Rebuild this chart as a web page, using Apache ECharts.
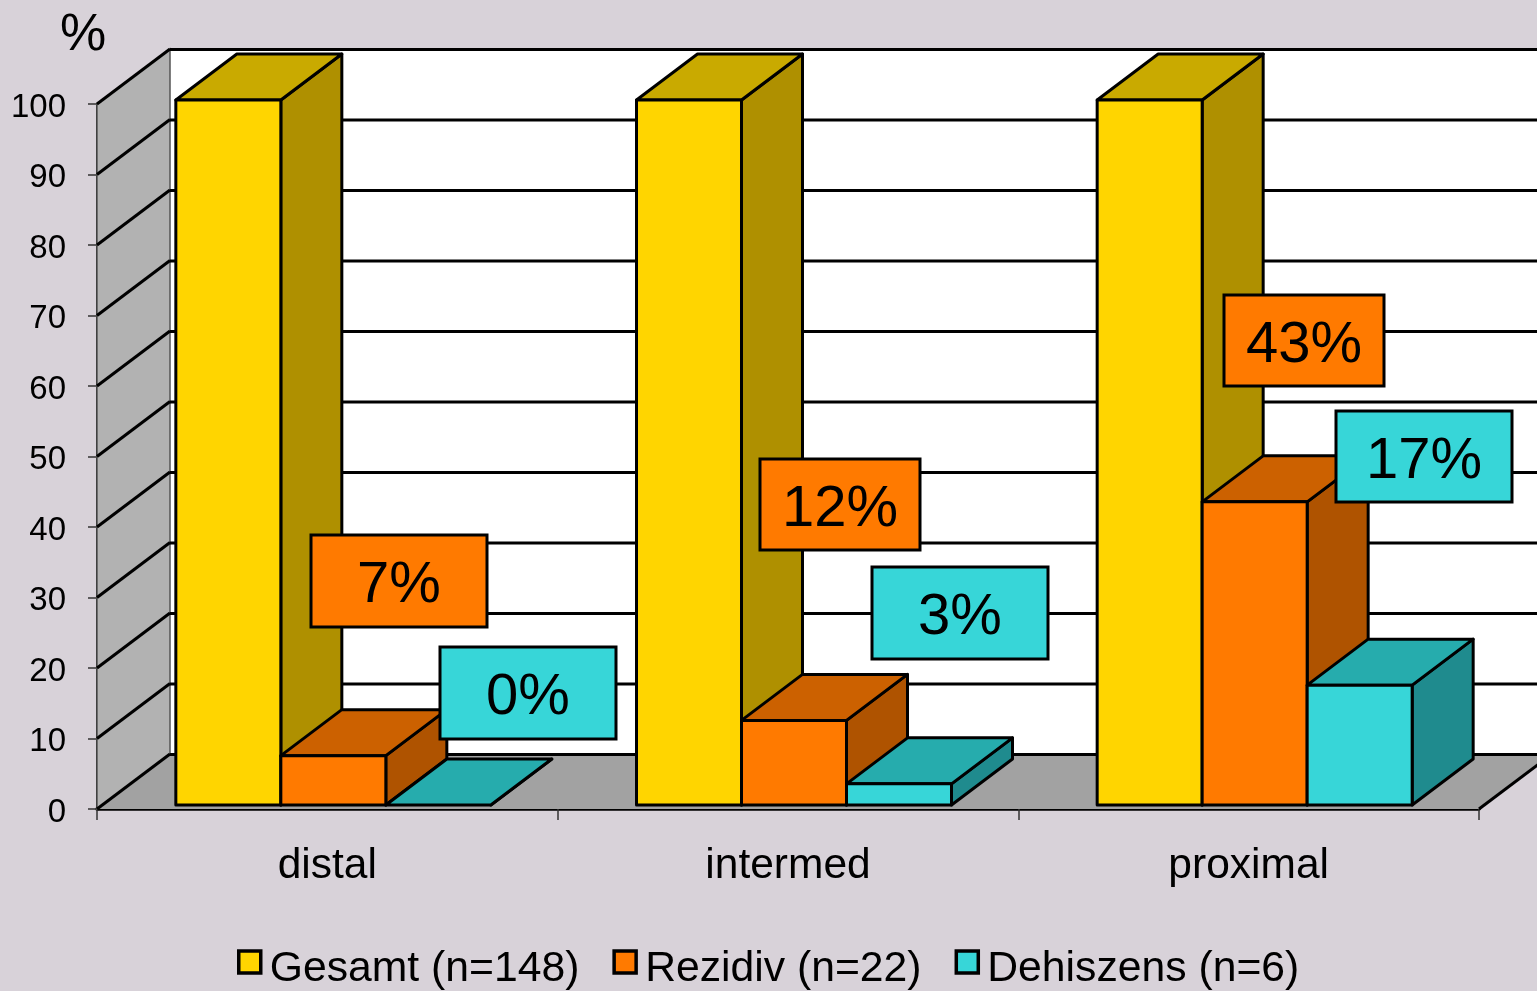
<!DOCTYPE html>
<html>
<head>
<meta charset="utf-8">
<style>html,body{margin:0;padding:0;background:#d8d2d9;overflow:hidden}#c{width:1537px;height:991px}</style>
<script src="https://cdn.jsdelivr.net/npm/echarts@6/dist/echarts.min.js"></script>
</head>
<body>
<div id="c"></div>
<script>
const categories = ['distal', 'intermed', 'proximal'];
const gesamt = [100, 100, 100];
const rezidiv = [7, 12, 43];
const dehiszens = [0, 3, 17];
const yTicks = [0, 10, 20, 30, 40, 50, 60, 70, 80, 90, 100];
const seriesNames = ['Gesamt (n=148)', 'Rezidiv (n=22)', 'Dehiszens (n=6)'];

const FONT = '"Liberation Sans", Arial, sans-serif';
const palette = [
  { front: '#ffd500', top: '#c9aa00', side: '#af9000' },
  { front: '#ff7a00', top: '#cc6100', side: '#af5300' },
  { front: '#37d6d8', top: '#26acad', side: '#1f8b8e' }
];
const WALL = { dx: 73, dy: -55 };
const BAR = { w: 105, dx: 61, dy: -46, groupOffset: -151.5, lift: 4 };

const stroke = { stroke: '#000', lineWidth: 3, lineJoin: 'round' };

function poly(points, fill, extra) {
  return { type: 'polygon', shape: { points }, style: Object.assign({ fill }, stroke, extra || {}) };
}

function renderWall(params, api) {
  const cs = params.coordSys;
  const children = [];
  const left = cs.x, right = cs.x + cs.width;
  const y0 = api.coord([0, 0])[1];
  const yTop = api.coord([0, 100])[1];
  const v = api.value(0);
  const y = api.coord([0, v])[1];
  if (params.dataIndex === 0) {
    children.push({
      type: 'polygon',
      shape: { points: [[left + WALL.dx, yTop + WALL.dy], [right + WALL.dx, yTop + WALL.dy], [right + WALL.dx, y0 + WALL.dy], [left + WALL.dx, y0 + WALL.dy]] },
      style: { fill: '#ffffff' }
    });
    children.push({
      type: 'polygon',
      shape: { points: [[left, y0], [left + WALL.dx, y0 + WALL.dy], [right + WALL.dx, y0 + WALL.dy], [right, y0]] },
      style: { fill: '#a2a2a2' }
    });
    children.push({
      type: 'polygon',
      shape: { points: [[left, yTop], [left + WALL.dx, yTop + WALL.dy], [left + WALL.dx, y0 + WALL.dy], [left, y0]] },
      style: { fill: '#b2b2b2', stroke: '#555', lineWidth: 1.5 }
    });
    children.push({
      type: 'line',
      shape: { x1: right, y1: y0, x2: right + WALL.dx, y2: y0 + WALL.dy },
      style: { stroke: '#000', lineWidth: 3 }
    });
  }
  children.push({
    type: 'line',
    shape: { x1: left + WALL.dx, y1: y + WALL.dy + 0.5, x2: right + WALL.dx, y2: y + WALL.dy + 0.5 },
    style: { stroke: '#000', lineWidth: 3.2 }
  });
  children.push({
    type: 'line',
    shape: { x1: left, y1: y, x2: left + WALL.dx, y2: y + WALL.dy },
    style: { stroke: '#000', lineWidth: 3 }
  });
  return { type: 'group', children };
}

function barRenderer(seriesIndex) {
  const c = palette[seriesIndex];
  return function (params, api) {
    const cat = api.value(0), val = api.value(1);
    const cx = api.coord([cat, 0])[0];
    const x0 = cx + BAR.groupOffset + seriesIndex * BAR.w;
    const x1 = x0 + BAR.w;
    const yb = api.coord([cat, 0])[1] - BAR.lift;
    const yt = api.coord([cat, val])[1] - BAR.lift;
    const dx = BAR.dx, dy = BAR.dy;
    const children = [];
    children.push(poly([[x1, yt], [x1 + dx, yt + dy], [x1 + dx, yb + dy], [x1, yb]], c.side));
    children.push(poly([[x0, yt], [x0 + dx, yt + dy], [x1 + dx, yt + dy], [x1, yt]], c.top));
    if (val > 0) {
      children.push(poly([[x0, yt], [x1, yt], [x1, yb], [x0, yb]], c.front));
    }
    return { type: 'group', children };
  };
}

function pairs(arr) { return arr.map((v, i) => [i, v]); }

const labelBoxes = [
  { values: rezidiv, cat: 0, s: 1, x: 311, y: 535, w: 176, h: 92 },
  { values: dehiszens, cat: 0, s: 2, x: 440, y: 647, w: 176, h: 92 },
  { values: rezidiv, cat: 1, s: 1, x: 760, y: 459, w: 160, h: 91 },
  { values: dehiszens, cat: 1, s: 2, x: 872, y: 567, w: 176, h: 92 },
  { values: rezidiv, cat: 2, s: 1, x: 1224, y: 295, w: 160, h: 91 },
  { values: dehiszens, cat: 2, s: 2, x: 1336, y: 411, w: 176, h: 91 }
];

const graphicEls = labelBoxes.map(b => ({
  type: 'rect',
  z: 100,
  shape: { x: b.x, y: b.y, width: b.w, height: b.h },
  style: {
    fill: palette[b.s].front, stroke: '#000', lineWidth: 3
  },
  textContent: {
    z: 101,
    style: { text: b.values[b.cat] + '%', font: '58px ' + FONT, fill: '#000' }
  },
  textConfig: { position: 'inside', offset: [0, 5] }
}));

const chart = echarts.init(document.getElementById('c'), null, { width: 1537, height: 991 });

const barSeries = [gesamt, rezidiv, dehiszens].map((values, i) => ({
  type: 'custom',
  name: seriesNames[i],
  renderItem: barRenderer(i),
  encode: { x: 0, y: 1 },
  itemStyle: { color: palette[i].front, borderColor: '#000', borderWidth: 3 },
  data: pairs(values),
  clip: false,
  z: 5 + i
}));

chart.setOption({
  animation: false,
  backgroundColor: '#d8d2d9',
  title: {
    text: '%', left: 55, top: 5,
    textStyle: { fontFamily: FONT, fontSize: 52, fontWeight: 'normal', color: '#000' }
  },
  grid: { left: 97, right: 58, top: 104, bottom: 182 },
  xAxis: {
    type: 'category',
    data: categories,
    boundaryGap: true,
    axisLine: { lineStyle: { color: '#000', width: 3.5 } },
    axisTick: { show: true, length: 11, lineStyle: { color: '#333', width: 1.5 } },
    axisLabel: { fontFamily: FONT, fontSize: 42.5, color: '#000', margin: 36 },
    splitLine: { show: false }
  },
  yAxis: {
    type: 'value',
    min: 0, max: 100, interval: 10,
    axisLine: { show: true, lineStyle: { color: '#000', width: 3 } },
    axisTick: { show: true, length: 9, lineStyle: { color: '#333', width: 1.5 } },
    axisLabel: {
      margin: 31,
      formatter: '{t|{value}}',
      rich: { t: { fontFamily: FONT, fontSize: 33, color: '#000', padding: [7, 0, 0, 0] } }
    },
    splitLine: { show: false }
  },
  legend: {
    left: 232, top: 943,
    itemWidth: 22, itemHeight: 22, itemGap: 33,
    icon: 'rect',
    selectedMode: false,
    data: seriesNames,
    itemStyle: { borderColor: '#000', borderWidth: 3.5 },
    formatter: name => '{t|' + name + '}',
    textStyle: {
      rich: { t: { fontFamily: FONT, fontSize: 42.7, color: '#000', padding: [15, 0, 0, 4] } }
    }
  },
  series: [{
    type: 'custom',
    name: 'walls',
    renderItem: renderWall,
    encode: { x: 0, y: 1 },
    data: yTicks.map(t => [t]),
    clip: false,
    silent: true,
    z: 1
  }].concat(barSeries),
  graphic: { elements: graphicEls }
});
</script>
</body>
</html>
